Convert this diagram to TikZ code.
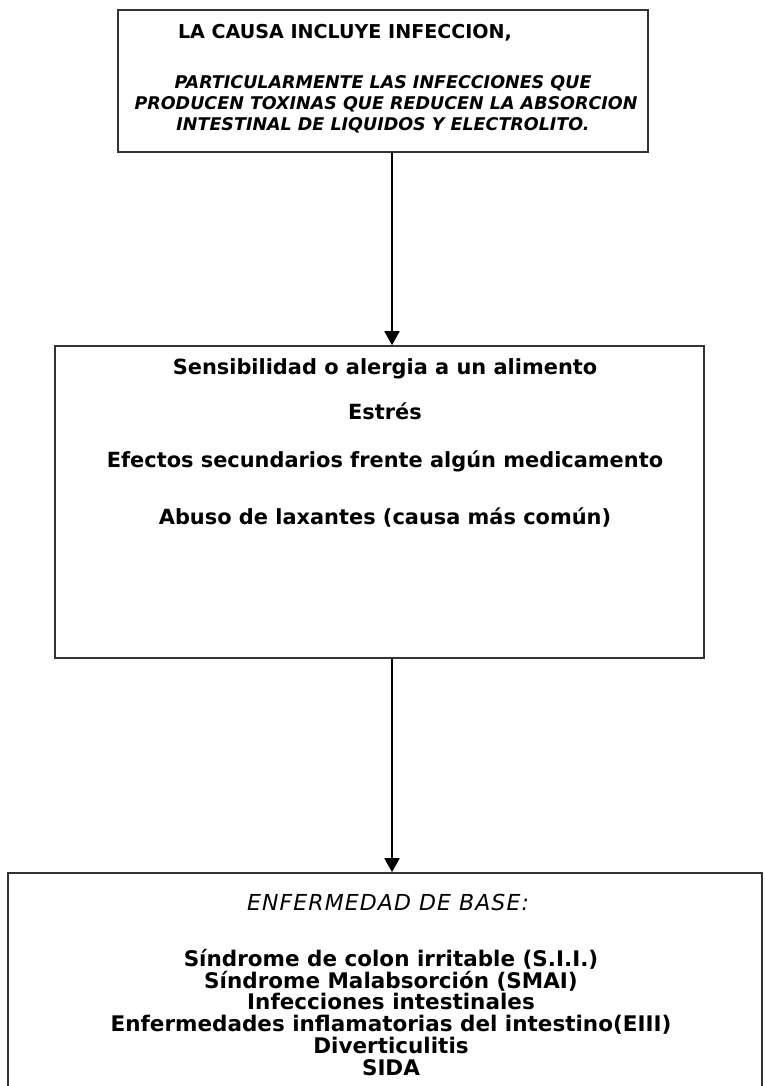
\documentclass[tikz,border=0pt]{standalone}
\usepackage{fontspec}
\setmainfont{DejaVu Sans}
\newfontfamily\spacedf[LetterSpace=5]{DejaVu Sans}
\usetikzlibrary{arrows.meta}
\tikzset{
  box/.style={draw=black!80, line width=1.6pt, rectangle, inner sep=0pt},
  conn/.style={line width=1.8pt, -{Triangle[width=15pt,length=14pt]}},
  topbold/.style={anchor=base, inner sep=0pt, font=\fontsize{19.1}{19.1}\selectfont\bfseries},
  topital/.style={anchor=base, inner sep=0pt, font=\fontsize{17.5}{17.5}\selectfont\bfseries\itshape},
  midtxt/.style={anchor=base, inner sep=0pt, font=\fontsize{20.9}{20.9}\selectfont\bfseries},
  bottxt/.style={anchor=base, inner sep=0pt, font=\fontsize{21.5}{21.5}\selectfont\bfseries},
  botital/.style={anchor=base, inner sep=0pt, font=\spacedf\fontsize{22}{22}\selectfont\itshape},
}
\begin{document}
\begin{tikzpicture}[x=1pt,y=-1pt]
\useasboundingbox (0,0) rectangle (765,1086);
% boxes
\node[box, minimum width=530pt, minimum height=142pt] (top) at (383,81) {};
\node[box, minimum width=649pt, minimum height=312pt] (mid) at (379.5,502) {};
\node[box, minimum width=754pt, minimum height=240pt] (bot) at (385,993) {};
% top texts
\node[topbold] (t1) at (345,39) {LA CAUSA INCLUYE INFECCION,};
\node[topital] (t2) at (383,88.5) {PARTICULARMENTE LAS INFECCIONES QUE};
\node[topital] (t3) at (386,109.5) {PRODUCEN TOXINAS QUE REDUCEN LA ABSORCION};
\node[topital] (t4) at (383,130.5) {INTESTINAL DE LIQUIDOS Y ELECTROLITO.};
% middle texts
\node[midtxt] (m1) at (385,374.6) {Sensibilidad o alergia a un alimento};
\node[midtxt] (m2) at (385,419.6) {Estrés};
\node[midtxt] (m3) at (385,467.6) {Efectos secundarios frente algún medicamento};
\node[midtxt] (m4) at (385,524.6) {Abuso de laxantes (causa más común)};
% bottom texts
\node[botital] (b0) at (388,910) {ENFERMEDAD DE BASE:};
\node[bottxt] (b1) at (391,966.5) {Síndrome de colon irritable (S.I.I.)};
\node[bottxt] (b2) at (391,988.2) {Síndrome Malabsorción (SMAI)};
\node[bottxt] (b3) at (391,1009.9) {Infecciones intestinales};
\node[bottxt] (b4) at (391,1031.6) {Enfermedades inflamatorias del intestino(EIII)};
\node[bottxt] (b5) at (391,1053.3) {Diverticulitis};
\node[bottxt] (b6) at (391,1075) {SIDA};
% connectors
\coordinate (ax) at (392,0);
\draw[conn] (top.south -| ax) -- (mid.north -| ax);
\draw[conn] (mid.south -| ax) -- (bot.north -| ax);
\end{tikzpicture}
\end{document}
